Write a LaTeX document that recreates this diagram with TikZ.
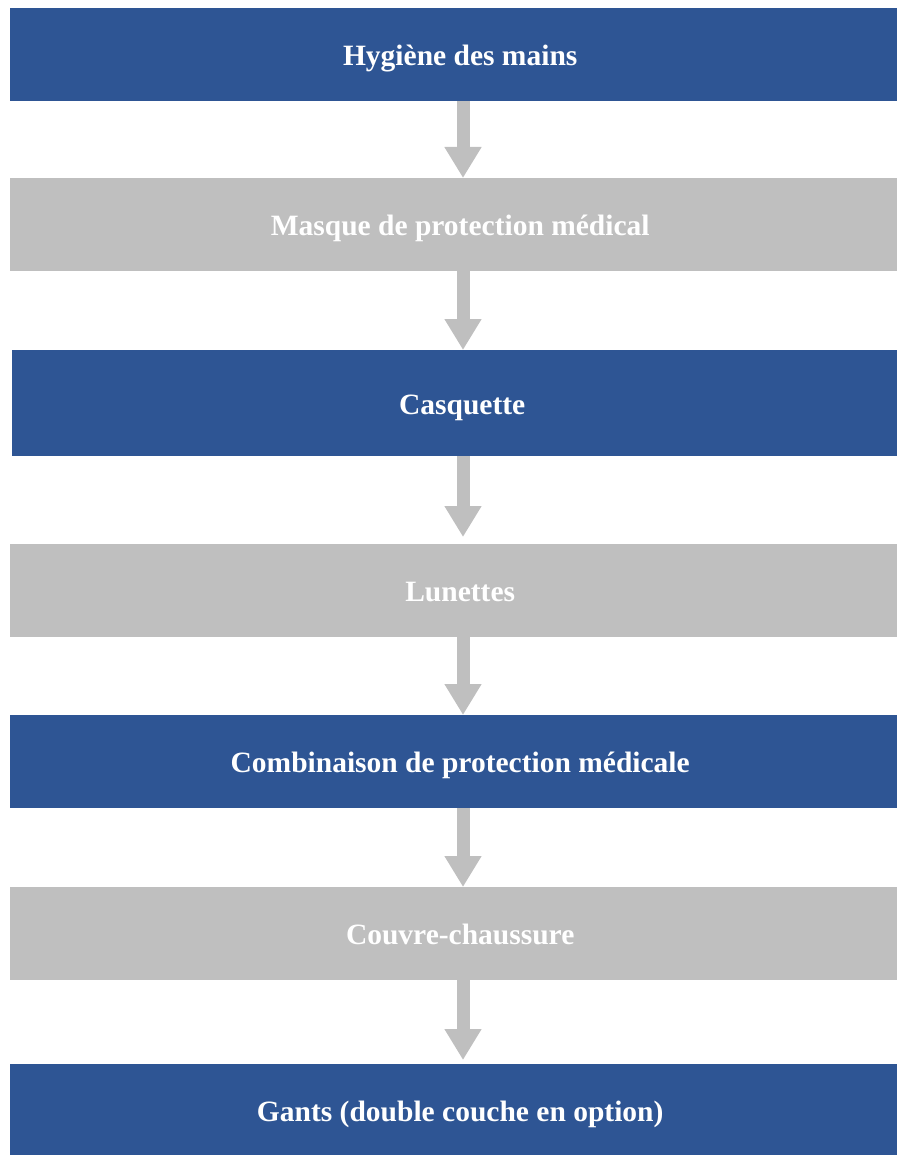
\documentclass[tikz,border=0pt]{standalone}
\usepackage{fontspec}
\setmainfont{Liberation Serif}
\usetikzlibrary{arrows.meta}

\definecolor{boxblue}{RGB}{46,85,148}
\definecolor{boxgray}{RGB}{191,191,191}

\begin{document}
\begin{tikzpicture}[x=1pt, y=-1pt,
    box/.style={anchor=north west, minimum width=900pt, minimum height=93pt,
        inner sep=0pt, text height=22pt, text depth=0pt, text=white,
        font=\fontsize{29.5}{33}\selectfont\bfseries},
    bluebox/.style={box, fill=boxblue},
    graybox/.style={box, fill=boxgray},
    arr/.style={draw=boxgray, line width=13pt,
        -{Triangle[width=35pt, length=31pt]}}]
    \useasboundingbox (0,0) rectangle (896,1155);
    % Nodes {hyg, masq, casq, lun, comb, couv, gants}
    \node [bluebox]                      (hyg)   at (10,8)    {Hygiène des mains};
    \node [graybox]                      (masq)  at (10,178)  {Masque de protection médical};
    \node [bluebox, minimum height=106pt] (casq) at (12,350)  {Casquette};
    \node [graybox]                      (lun)   at (10,544)  {Lunettes};
    \node [bluebox]                      (comb)  at (10,715)  {Combinaison de protection médicale};
    \node [graybox]                      (couv)  at (10,887)  {Couvre-chaussure};
    \node [bluebox, minimum height=92pt] (gants) at (10,1064) {Gants (double couche en option)};
    \coordinate (ax) at (463,0);

    % Paths
    \draw [arr] (hyg.south -| ax)  -- (masq.north -| ax);
    \draw [arr] (masq.south -| ax) -- (casq.north -| ax);
    \draw [arr] (casq.south -| ax) -- ([yshift=7pt]lun.north -| ax);
    \draw [arr] (lun.south -| ax)  -- (comb.north -| ax);
    \draw [arr] (comb.south -| ax) -- (couv.north -| ax);
    \draw [arr] (couv.south -| ax) -- ([yshift=4pt]gants.north -| ax);
\end{tikzpicture}
\end{document}
